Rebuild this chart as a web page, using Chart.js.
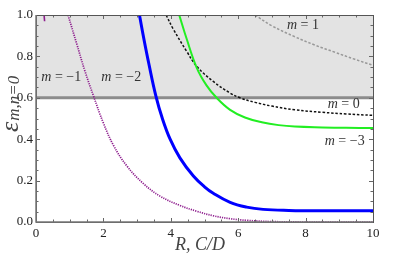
<!DOCTYPE html>
<html>
<head>
<meta charset="utf-8">
<script src="https://cdn.jsdelivr.net/npm/chart.js@4/dist/chart.umd.min.js"></script>
<style>
html,body{margin:0;padding:0;background:#fff;}
#wrap{width:395px;height:254px;position:relative;}
</style>
</head>
<body>
<div id="wrap"><canvas id="c" width="395" height="254"></canvas></div>
<script>
// ---- data ----
const xTicks = [0, 2, 4, 6, 8, 10];
const yTicks = [0.0, 0.2, 0.4, 0.6, 0.8, 1.0];
const threshold = 0.6;

const mMinus1X = [0.95, 1.21, 1.45, 1.71, 2.0, 2.3, 2.7, 3.19, 3.68, 4.27, 4.77, 5.26, 5.76, 6.25, 7.0, 8.0, 10.0];
const mMinus1Y = [1.0, 0.86, 0.73, 0.607, 0.478, 0.37, 0.27, 0.185, 0.125, 0.08, 0.052, 0.03, 0.016, 0.008, 0.002, 0, 0];
const mMinus1BranchX = [0.24, 0.255];
const mMinus1BranchY = [1.0, 0.97];

const mMinus2X = [3.07, 3.2, 3.35, 3.56, 3.75, 3.98, 4.27, 4.67, 5.0, 5.26, 5.76, 6.25, 6.74, 7.5, 8.5, 10];
const mMinus2Y = [1.0, 0.885, 0.763, 0.607, 0.5, 0.40, 0.31, 0.222, 0.17, 0.139, 0.095, 0.072, 0.061, 0.056, 0.054, 0.054];

const m0X = [3.86, 4.08, 4.47, 4.77, 5.26, 5.76, 6.05, 6.5, 7.0, 7.68, 8.5, 9.2, 10];
const m0Y = [1.0, 0.93, 0.825, 0.752, 0.679, 0.623, 0.6, 0.578, 0.56, 0.542, 0.53, 0.522, 0.515];

const mMinus3X = [4.25, 4.47, 4.77, 5.06, 5.36, 5.76, 6.2, 6.7, 7.2, 7.68, 8.5, 9.2, 10];
const mMinus3Y = [1.0, 0.885, 0.745, 0.66, 0.6, 0.542, 0.505, 0.482, 0.468, 0.461, 0.457, 0.455, 0.454];

const m1X = [6.5, 7.0, 7.68, 8.27, 8.87, 9.46, 10];
const m1Y = [1.0, 0.948, 0.895, 0.855, 0.82, 0.786, 0.757];

const labelTexts = ['−1', '−2', '1', '0', '−3'];
const labelX = [0.75, 2.53, 7.92, 9.13, 9.16];
const labelY = [0.70, 0.70, 0.949, 0.567, 0.392];

// ---- build ----
const pts = (xs, ys) => xs.map((x, i) => ({x: x, y: ys[i]}));
const SERIF = '"Liberation Serif", "DejaVu Serif", serif';

const curve = (xs, ys, color, width, dash) => ({
  data: pts(xs, ys), borderColor: color, borderWidth: width, borderDash: dash || [],
  pointRadius: 0, fill: false, tension: 0.4, order: 1
});

const datasets = [
  curve(mMinus2X, mMinus2Y, '#0000ff', 3),
  curve(mMinus3X, mMinus3Y, '#22ee22', 2),
  curve(m0X, m0Y, '#111111', 1.5, [2.5, 1.8]),
  curve(m1X, m1Y, '#999999', 1.5, [2.5, 1.8]),
  curve(mMinus1X, mMinus1Y, '#8e1e8e', 1.7, [1.2, 1.1]),
  curve(mMinus1BranchX, mMinus1BranchY, '#8e1e8e', 1.6),
  {
    data: pts([0, 10], [threshold, threshold]), borderColor: '#8c8c8c', borderWidth: 3,
    backgroundColor: '#e3e3e3', fill: 'end', pointRadius: 0, order: 10
  }
];

const framePlugin = {
  id: 'frame',
  afterDraw(chart) {
    const ctx = chart.ctx, ca = chart.chartArea, xs = chart.scales.x, ys = chart.scales.y;
    ctx.save();
    ctx.strokeStyle = '#666';
    ctx.lineWidth = 1;
    ctx.beginPath();
    for (let i = 0; i <= 20; i++) {
      const v = i * 0.5;
      const px = Math.round(xs.getPixelForValue(v)) + 0.5;
      const len = (i % 4 === 0) ? 4 : 2.5;
      ctx.moveTo(px, ca.bottom); ctx.lineTo(px, ca.bottom - len);
      ctx.moveTo(px, ca.top); ctx.lineTo(px, ca.top + len);
    }
    for (let i = 0; i <= 20; i++) {
      const v = i * 0.05;
      const py = Math.round(ys.getPixelForValue(v)) + 0.5;
      const len = (i % 4 === 0) ? 4 : 2.5;
      ctx.moveTo(ca.left, py); ctx.lineTo(ca.left + len, py);
      ctx.moveTo(ca.right, py); ctx.lineTo(ca.right - len, py);
    }
    ctx.stroke();
    ctx.strokeStyle = '#555';
    ctx.strokeRect(Math.round(ca.left) + 0.5, Math.round(ca.top) + 0.5,
      Math.round(ca.right - ca.left), Math.round(ca.bottom - ca.top));
    ctx.lineWidth = 1.5;
    ctx.strokeStyle = '#777';
    ctx.beginPath();
    ctx.moveTo(ca.left, ca.top); ctx.lineTo(ca.left, ca.bottom); ctx.lineTo(ca.right, ca.bottom);
    ctx.stroke();

    // curve labels
    ctx.fillStyle = '#333';
    ctx.textBaseline = 'middle';
    labelTexts.forEach((t, i) => {
      const px = xs.getPixelForValue(labelX[i]);
      const py = ys.getPixelForValue(labelY[i]);
      ctx.font = 'italic 14px ' + SERIF;
      const w1 = ctx.measureText('m').width;
      ctx.font = '14px ' + SERIF;
      const rest = ' = ' + t;
      const w2 = ctx.measureText(rest).width;
      const x0 = px - (w1 + w2) / 2;
      ctx.font = 'italic 14px ' + SERIF;
      ctx.fillText('m', x0, py);
      ctx.font = '14px ' + SERIF;
      ctx.fillText(rest, x0 + w1, py);
    });

    // axis titles
    ctx.fillStyle = '#444';
    ctx.textBaseline = 'alphabetic';
    ctx.font = 'italic 18px ' + SERIF;
    ctx.textAlign = 'center';
    ctx.fillText('R, C/D', 200, 250);
    ctx.textAlign = 'left';
    ctx.save();
    ctx.translate(18, 132);
    ctx.rotate(-Math.PI / 2);
    ctx.font = 'italic 26px ' + SERIF;
    ctx.fillText('ε', 0, 0);
    const ew = ctx.measureText('ε').width;
    ctx.font = 'italic 17px ' + SERIF;
    ctx.fillText('m,n=0', ew + 1, 1);
    ctx.restore();
    ctx.restore();
  }
};

new Chart(document.getElementById('c'), {
  type: 'line',
  data: { datasets: datasets },
  options: {
    responsive: false,
    animation: false,
    layout: { padding: { top: 15, right: 22, left: 0, bottom: 0 } },
    plugins: { legend: { display: false }, tooltip: { enabled: false } },
    scales: {
      x: {
        type: 'linear', min: 0, max: 10,
        afterFit(s) { s.height = 32; },
        afterBuildTicks(s) { s.ticks = xTicks.map(v => ({value: v})); },
        grid: { display: false, drawTicks: false },
        border: { display: false },
        ticks: { padding: 4, color: '#222', font: { family: SERIF, size: 13 }, maxRotation: 0, callback: v => String(v) }
      },
      y: {
        type: 'linear', min: 0, max: 1,
        afterFit(s) { s.width = 36; },
        afterBuildTicks(s) { s.ticks = yTicks.map(v => ({value: v})); },
        grid: { display: false, drawTicks: false },
        border: { display: false },
        ticks: { padding: 3, color: '#222', font: { family: SERIF, size: 13 }, callback: v => Number(v).toFixed(1) }
      }
    }
  },
  plugins: [framePlugin]
});
</script>
</body>
</html>
